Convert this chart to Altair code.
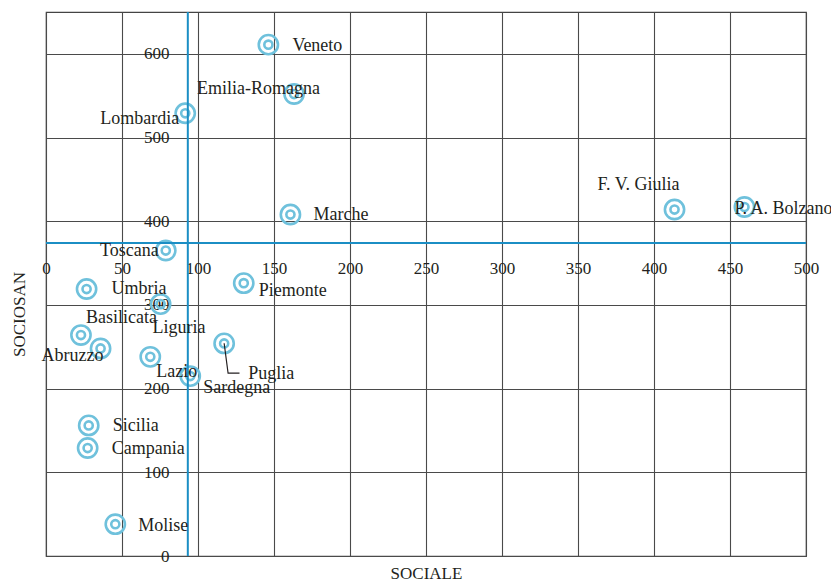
import altair as alt
import pandas as pd

# ---- data ----
regions = ["Veneto", "Emilia-Romagna", "Lombardia", "Marche", "Toscana",
           "F. V. Giulia", "P. A. Bolzano", "Umbria", "Piemonte", "Liguria",
           "Basilicata", "Abruzzo", "Lazio", "Sardegna", "Puglia",
           "Sicilia", "Campania", "Molise"]
sociale = [146.3, 163.2, 91.6, 160.8, 78.8,
           413.5, 459.5, 26.7, 130.1, 75.4,
           23.0, 35.9, 68.6, 94.9, 117.2,
           28.1, 27.4, 45.6]
sociosan = [611, 552, 529, 408, 365,
            414, 417, 319, 326, 301,
            264, 248, 238, 215, 254,
            156, 129, 38]
x_ticks = [0, 50, 100, 150, 200, 250, 300, 350, 400, 450, 500]
y_ticks = [0, 100, 200, 300, 400, 500, 600]
x_reference = [93.3]
y_reference = [374]
# leader line for Puglia label (data units)
leader_x = [117.2, 119.8, 127.3]
leader_y = [254.2, 218.4, 218.4]

# label placement (annotation styling, not data)
label_pos = {
    "Veneto": ("left", 24, 1),
    "Emilia-Romagna": ("left", -97, -5),
    "Lombardia": ("right", -6, 6),
    "Marche": ("left", 23, 0),
    "Toscana": ("right", -7, 0),
    "F. V. Giulia": ("left", -77, -25),
    "P. A. Bolzano": ("left", -10, 2),
    "Umbria": ("left", 25, 0),
    "Piemonte": ("left", 15, 8),
    "Liguria": ("left", -8, 24),
    "Basilicata": ("left", 5, -17),
    "Abruzzo": ("right", 3, 8),
    "Lazio": ("left", 6, 15),
    "Sardegna": ("left", 13, 12),
    "Puglia": ("left", 24, 31),
    "Sicilia": ("left", 24, 1),
    "Campania": ("left", 24, 1),
    "Molise": ("left", 23, 2),
}

df = pd.DataFrame({"region": regions, "SOCIALE": sociale, "SOCIOSAN": sociosan})
df_vx = pd.DataFrame({"SOCIALE": x_reference})
df_hy = pd.DataFrame({"SOCIOSAN": y_reference})
df_leader = pd.DataFrame({"SOCIALE": leader_x, "SOCIOSAN": leader_y, "o": [0, 1, 2]})

FONT = "Liberation Serif"
TEXT = "#231f20"
RING = "#6fc1dc"
BLUE = "#1b8ec4"

xscale = alt.Scale(domain=[0, 500], nice=False, zero=True)
yscale = alt.Scale(domain=[0, 650], nice=False, zero=True)

x_axis = alt.Axis(values=x_ticks, grid=True, domain=False, ticks=False, tickSize=0,
                  labelPadding=0, offset=-296, labelFlush=False, labelOverlap=False,
                  labelFont=FONT, labelFontSize=17, labelColor=TEXT,
                  title="SOCIALE", titleFont=FONT, titleFontSize=17,
                  titleFontWeight="normal", titleColor=TEXT,
                  titleBaseline="alphabetic", titleY=318)
y_axis = alt.Axis(values=y_ticks, grid=True, domain=False, ticks=False, tickSize=0,
                  labelPadding=0, offset=-123, labelFlush=False, labelOverlap=False,
                  labelFont=FONT, labelFontSize=17, labelColor=TEXT,
                  labelBaseline="middle",
                  title="SOCIOSAN", titleFont=FONT, titleFontSize=17,
                  titleFontWeight="normal", titleColor=TEXT,
                  titleBaseline="alphabetic", titleX=-145, titleY=302)

X = alt.X("SOCIALE:Q", scale=xscale, axis=x_axis)
Y = alt.Y("SOCIOSAN:Q", scale=yscale, axis=y_axis)

base = alt.Chart(df)

outer = base.mark_point(shape="circle", filled=False, size=370, strokeWidth=2.6,
                        color=RING, opacity=1).encode(x=X, y=Y)
inner = base.mark_point(shape="circle", filled=False, size=66, strokeWidth=2.6,
                        color=RING, opacity=1).encode(x=X, y=Y)

vrule = alt.Chart(df_vx).mark_rule(color=BLUE, strokeWidth=2).encode(x=X)
hrule = alt.Chart(df_hy).mark_rule(color=BLUE, strokeWidth=2).encode(y=Y)

leader = alt.Chart(df_leader).mark_line(color=TEXT, strokeWidth=1.2).encode(
    x=X, y=Y, order="o:O")

label_layers = []
for name, (align, dx, dy) in label_pos.items():
    label_layers.append(
        base.transform_filter(alt.datum.region == name).mark_text(
            align=align, baseline="middle", dx=dx, dy=dy,
            font=FONT, fontSize=18, color=TEXT,
        ).encode(x=X, y=Y, text="region:N")
    )

chart = alt.layer(outer, inner, vrule, hrule, leader, *label_layers).properties(
    width=760, height=544,
    autosize=alt.AutoSizeParams(type="none"),
    padding={"left": 38, "top": 4, "right": 25, "bottom": 26},
).configure_view(
    stroke="#444444", strokeWidth=1.2,
).configure_axis(
    gridColor="#4a4a4a", gridWidth=1.1, gridOpacity=1,
)

chart.save("out.html", embed_options={"renderer": "svg", "actions": False})
